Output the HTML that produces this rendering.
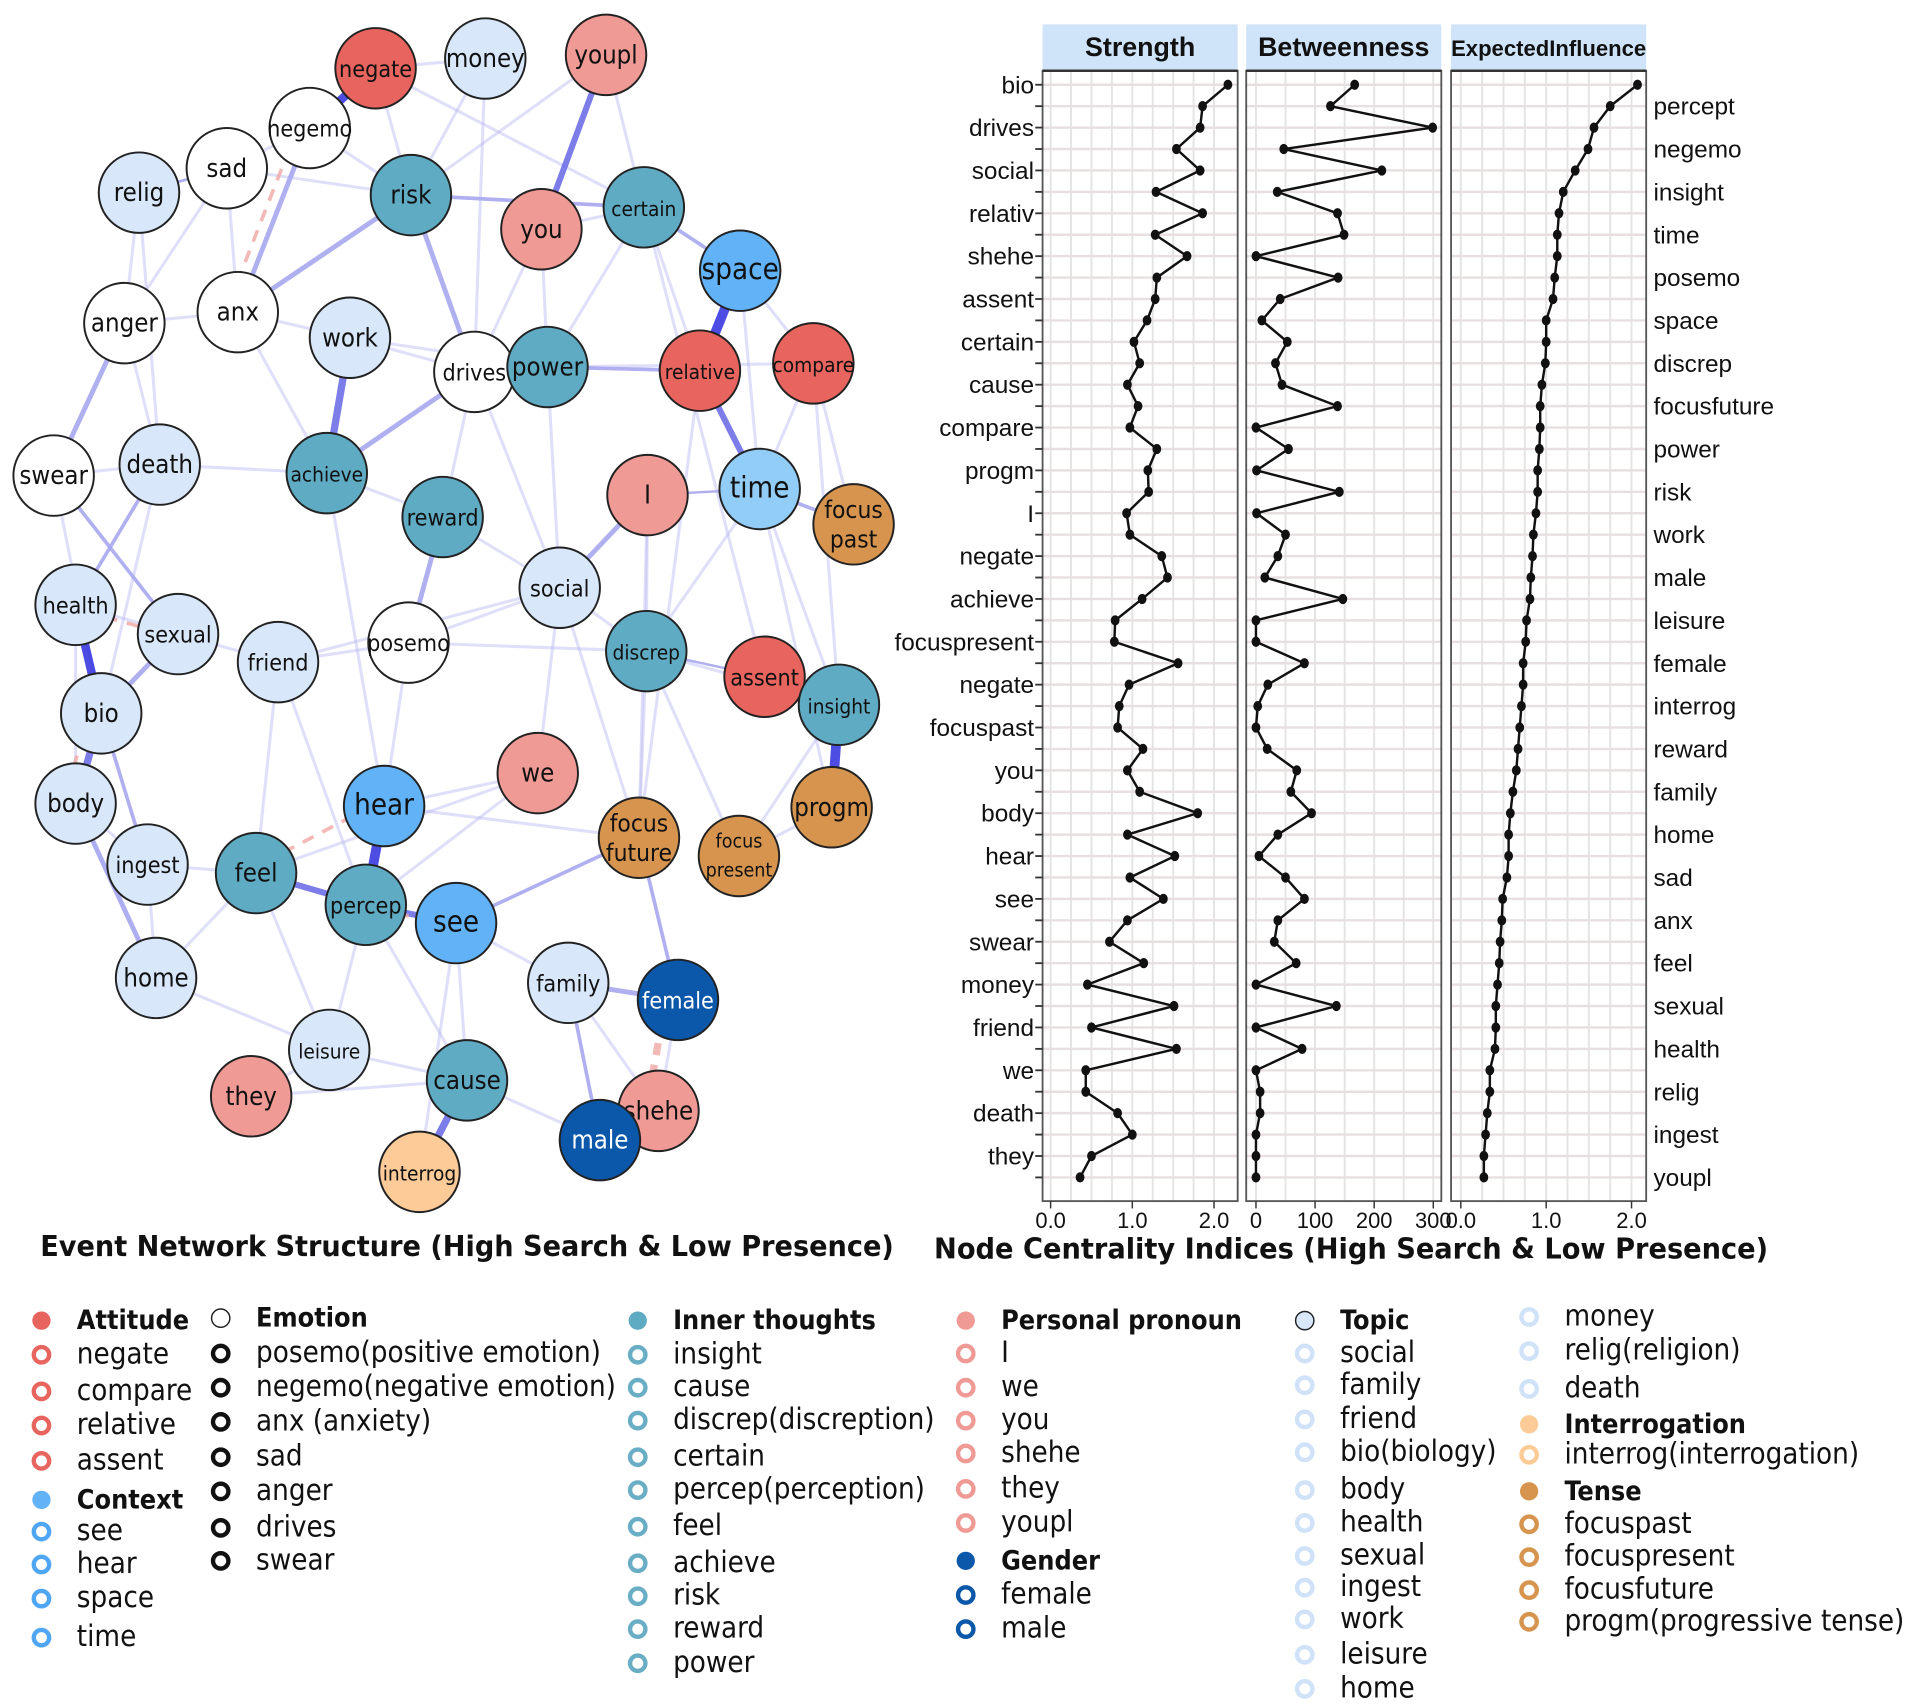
<!DOCTYPE html>
<html><head><meta charset="utf-8"><title>Network and centrality</title>
<style>
html,body{margin:0;padding:0;background:#fff;}
svg{display:block;}
.t{font-family:"DejaVu Sans Condensed","DejaVu Sans","Liberation Sans",sans-serif;}
.a{font-family:"Liberation Sans",sans-serif;}
</style></head>
<body>
<svg id="root" width="1912" height="1704" viewBox="0 0 1568 1397.4" preserveAspectRatio="none" xmlns="http://www.w3.org/2000/svg">
<rect width="1568" height="1398" fill="#fff"/>
<g id="edges"></g>
<g id="nodes"></g>
<text class="t" x="33" y="1030" font-size="23.5" font-weight="bold" fill="#111" textLength="700" lengthAdjust="spacingAndGlyphs">Event Network Structure (High Search &amp; Low Presence)</text>
<text class="t" x="766" y="1032" font-size="23.5" font-weight="bold" fill="#111" textLength="684" lengthAdjust="spacingAndGlyphs">Node Centrality Indices (High Search &amp; Low Presence)</text>
<g id="chart"></g>
<g id="legend"></g>
</svg>
<script>
const NS="http://www.w3.org/2000/svg";
function mk(tag,attrs,parent){const e=document.createElementNS(NS,tag);for(const k in attrs)e.setAttribute(k,attrs[k]);parent.appendChild(e);return e;}

// ---------- centrality chart data ----------
const leftLabels=["bio","drives","social","relativ","shehe","assent","certain","cause","compare","progm","I","negate","achieve","focuspresent","negate","focuspast","you","body","hear","see","swear","money","friend","we","death","they"];
const rightLabels=["percept","negemo","insight","time","posemo","space","discrep","focusfuture","power","risk","work","male","leisure","female","interrog","reward","family","home","sad","anx","feel","sexual","health","relig","ingest","youpl"];
const strengthValues=[2.17,1.86,1.83,1.54,1.83,1.29,1.86,1.28,1.67,1.30,1.28,1.18,1.02,1.09,0.94,1.07,0.97,1.30,
1.19,1.20,0.93,0.97,1.36,1.43,1.12,0.79,0.78,1.56,0.96,0.84,0.82,1.13,0.94,1.09,1.80,
0.94,1.52,0.97,1.38,0.94,0.72,1.14,0.45,1.51,0.50,1.54,0.43,0.43,0.82,1.00,0.50,0.36];
const betweennessValues=[167,126,299,47,213,36,138,149,0,139,41,10,53,33,44,138,0,55,
1,141,1,50,37,15,147,0,0,82,20,3,0,19,69,59,94,
37,5,50,82,37,31,68,0,136,0,78,0,7,7,0,0,0];
const influenceValues=[2.07,1.75,1.56,1.49,1.34,1.20,1.15,1.13,1.13,1.10,1.08,1.00,1.00,0.99,0.95,0.93,0.93,0.92,0.90,0.90,0.88,0.85,0.84,0.82,0.81,0.77,
0.76,0.73,0.73,0.71,0.69,0.67,0.65,0.61,0.58,0.56,0.56,0.54,0.49,0.48,0.46,0.45,0.43,0.41,0.41,0.40,0.34,0.34,0.31,0.29,0.27,0.27];
const strengthTicks=["0.0","1.0","2.0"];
const betweennessTicks=["0","100","200","300"];
const influenceTicks=["0.0","1.0","2.0"];

const chart=document.getElementById('chart');
const rowY=i=>69.5+i*17.57;
const panels=[
 {name:"Strength",key:"strength",x0:855,x1:1015,vals:strengthValues,sx:v=>861.6+v*67,ticks:strengthTicks,tv:[0,1,2],grid:[0,0.25,0.5,0.75,1,1.25,1.5,1.75,2],fs:22,tl:0},
 {name:"Betweenness",key:"betweenness",x0:1022,x1:1182,vals:betweennessValues,sx:v=>1030+v*0.4847,ticks:betweennessTicks,tv:[0,100,200,300],grid:[0,50,100,150,200,250,300],fs:22,tl:0},
 {name:"ExpectedInfluence",key:"expected-influence",x0:1190,x1:1350,vals:influenceValues,sx:v=>1198+v*70,ticks:influenceTicks,tv:[0,1,2],grid:[0,0.25,0.5,0.75,1,1.25,1.5,1.75,2],fs:18,tl:160}
];
panels.forEach(p=>{
  const g=mk('g',{},chart);
  
  
  const h=mk('rect',{x:p.x0,y:20,width:p.x1-p.x0,height:38,fill:'#cfe4f9'},g);
  
  
  const ta={x:(p.x0+p.x1)/2,y:46,'text-anchor':'middle','font-size':p.fs,'font-weight':'bold',fill:'#111',class:'a'};
  if(p.tl){ta.textLength=p.tl;ta.lengthAdjust='spacingAndGlyphs';}
  const ht=mk('text',ta,g);
  ht.textContent=p.name;
  
  
  mk('rect',{x:p.x0,y:58,width:p.x1-p.x0,height:927,fill:'#fff'},g);
  p.grid.forEach(v=>{mk('line',{x1:p.sx(v),x2:p.sx(v),y1:58,y2:985,stroke:'#e4e4e4','stroke-width':1.6},g);});
  for(let i=0;i<52;i++){mk('line',{x1:p.x0,x2:p.x1,y1:rowY(i),y2:rowY(i),stroke:'#e8e0e0','stroke-width':2},g);}
  mk('rect',{x:p.x0,y:58,width:p.x1-p.x0,height:927,fill:'none',stroke:'#555','stroke-width':1.5},g);
  mk('line',{x1:p.x0,x2:p.x1,y1:58,y2:58,stroke:'#333','stroke-width':2},g);
  p.tv.forEach((v,i)=>{
    mk('line',{x1:p.sx(v),x2:p.sx(v),y1:985,y2:991,stroke:'#333','stroke-width':1.2},g);
    const t=mk('text',{x:p.sx(v),y:998+9,'text-anchor':'middle','font-size':18,fill:'#111',class:'a'},g);
    t.textContent=p.ticks[i];
    
    
  });
  const pts=p.vals.map((v,i)=>p.sx(v)+','+rowY(i)).join(' ');
  const line=mk('polyline',{points:pts,fill:'none',stroke:'#111','stroke-width':2},g);
  
  
  p.vals.forEach((v,i)=>{
    const c=mk('ellipse',{cx:p.sx(v),cy:rowY(i),rx:3.6,ry:4.2,fill:'#111'},g);
    
    
  });
});
for(let i=0;i<52;i++){mk('line',{x1:849,x2:855,y1:rowY(i),y2:rowY(i),stroke:'#333','stroke-width':1.5},chart);}
leftLabels.forEach((s,i)=>{
  const t=mk('text',{x:848,y:rowY(2*i)+7,'text-anchor':'end','font-size':20,fill:'#111',class:'a'},chart);
  t.textContent=s;
  
  
});
rightLabels.forEach((s,i)=>{
  const t=mk('text',{x:1356,y:rowY(2*i+1)+7,'font-size':20,fill:'#111',class:'a'},chart);
  t.textContent=s;
  
  
});

// ---------- network ----------
const C={att:'#e8645e',pro:'#f09a96',inn:'#5fabc3',ctx:'#62b2f7',ctx2:'#92cdf8',top:'#d8e7f9',emo:'#ffffff',gen:'#0b57aa',ten:'#d6944f',itg:'#fdcb97'};
const nodeNames=["negate","money","youpl","negemo","sad","relig","risk","you","certain","space","anger","anx","work","drives","power","relative","compare","swear","death","achieve","reward","I","time","focus past","health","sexual","friend","posemo","social","discrep","assent","insight","bio","we","hear","progm","body","ingest","feel","focus future","focus present","percep","see","home","family","female","leisure","cause","they","shehe","male","interrog"];
const nodeX=[308,398,497,254,186,114,337,444,528,607,102,195,287,389,449,574,667,44,131,268,363,531,623,700,62,146,228,335,459,530,627,688,83,441,315,682,62,121,210,524,606,300,374,128,466,556,270,383,206,540,492,344];
const nodeY=[56,48,45,105,138,158,160,188,170,222,265,256,277,305,301,304,298,390,381,388,424,406,401,430,496,520,543,527,482,534,555,578,585,634,661,662,659,709,716,687,702,742,757,802,806,820,861,886,899,911,935,961];
const nodeGroup=["att","top","pro","emo","emo","top","inn","pro","inn","ctx","emo","emo","top","emo","inn","att","att","emo","top","inn","inn","pro","ctx2","ten","top","top","top","emo","top","inn","att","inn","top","pro","ctx","ten","top","top","inn","ten","ten","inn","ctx","top","top","gen","top","inn","pro","pro","gen","itg"];
const strongEdges=[["negate","negemo",7],["space","relative",8],["relative","time",5],["insight","progm",8],["assent","insight",3],["hear","percep",8],["percep","feel",5],["percep","see",5],["health","bio",7],["bio","body",6],["bio","sexual",4],["achieve","work",6],["reward","posemo",4],["cause","interrog",6],["family","female",4],["male","family",3],["body","home",4],["ingest","bio",3],["youpl","you",5],["risk","drives",4],["certain","space",3],["time","focus past",3],["social","I",4],["anger","swear",4],["risk","anx",4],["negemo","anx",4],["drives","achieve",4],["see","focus future",3],["focus future","female",3],["risk","certain",3],["sad","relig",2],["swear","sexual",3],["death","health",3],["relative","power",3],["I","time",2],["discrep","assent",2]];
const faintEdges=[["negate","risk"],["negate","certain"],["money","risk"],["money","drives"],["sad","risk"],["relig","anger"],["relig","death"],["sad","anger"],["sad","anx"],["anx","work"],["work","drives"],["drives","social"],["power","social"],["power","you"],["you","certain"],["certain","relative"],["compare","time"],["compare","focus past"],["compare","insight"],["space","time"],["space","compare"],["relative","focus future"],["time","progm"],["time","discrep"],["I","discrep"],["social","discrep"],["social","posemo"],["posemo","friend"],["posemo","discrep"],["friend","sexual"],["friend","feel"],["death","bio"],["swear","death"],["health","sexual"],["body","ingest"],["ingest","home"],["ingest","feel"],["feel","home"],["home","leisure"],["leisure","percep"],["leisure","they"],["they","cause"],["cause","see"],["cause","percep"],["see","family"],["hear","achieve"],["hear","we"],["we","social"],["we","percep"],["focus present","insight"],["focus present","discrep"],["focus future","discrep"],["focus future","social"],["family","shehe"],["shehe","female"],["shehe","male"],["male","cause"],["progm","focus present"],["assent","certain"],["insight","time"],["achieve","reward"],["reward","social"],["work","power"],["anger","anx"],["swear","bio"],["home","body"],["posemo","hear"],["percep","friend"],["we","feel"],["leisure","cause"],["interrog","see"],["youpl","risk"],["you","drives"],["negemo","sad"],["negemo","risk"],["certain","power"],["anger","death"],["relig","sad"],["drives","reward"],["I","focus future"],["discrep","insight"],["hear","focus future"],["body","health"],["money","negate"],["youpl","certain"],["power","compare"],["social","friend"],["anx","achieve"],["death","achieve"],["feel","leisure"]];
const dashedEdges=[["female","shehe"],["health","sexual"],["bio","body"],["hear","feel"],["percep","see"],["negemo","anx"]];
const idx=n=>nodeNames.indexOf(n);
const eg=document.getElementById('edges');
faintEdges.forEach(e=>{
  const a=idx(e[0]),b=idx(e[1]);
  const l=mk('line',{x1:nodeX[a],y1:nodeY[a],x2:nodeX[b],y2:nodeY[b],stroke:'#b9b9f2','stroke-width':2.5,'stroke-opacity':0.45},eg);
  
  
});
strongEdges.forEach(e=>{
  const a=idx(e[0]),b=idx(e[1]);
  const w=e[2];
  const col=w>=7?'#3a3ae0':(w>=5?'#6f6fe8':'#a7a7f0');
  const l=mk('line',{x1:nodeX[a],y1:nodeY[a],x2:nodeX[b],y2:nodeY[b],stroke:col,'stroke-width':w,'stroke-opacity':0.9},eg);
  
  
});
dashedEdges.forEach(e=>{
  const a=idx(e[0]),b=idx(e[1]);
  const l=mk('line',{x1:nodeX[a]-10,y1:nodeY[a],x2:nodeX[b]-10,y2:nodeY[b],stroke:'#f0a8a4','stroke-width':e[0]=="female"?6:3,'stroke-dasharray':'10,8','stroke-opacity':0.8},eg);
  
  
});
const ng=document.getElementById('nodes');
nodeNames.forEach((n,i)=>{
  const g=mk('g',{},ng);
  
  
  mk('circle',{cx:nodeX[i],cy:nodeY[i],r:33,fill:C[nodeGroup[i]],stroke:'#222','stroke-width':1.6},g);
  const dark=nodeGroup[i]=='gen';
  const parts=n.split(' ');
  let fs=n.length>=7?17:(n.length>=6?19:21);
  if(parts.length==2){
    parts.forEach((p,j)=>{
      const t=mk('text',{x:nodeX[i],y:nodeY[i]+(j==0?-5:19)+(n=="focus present"?-2:0),'text-anchor':'middle','font-size':n=="focus present"?16:20,fill:'#111',class:'t'},g);
      t.textContent=p;
    });
  } else {
    const t=mk('text',{x:nodeX[i],y:nodeY[i]+7,'text-anchor':'middle','font-size':(n=="space"||n=="time"||n=="hear"||n=="see")?24:fs,fill:dark?'#fff':'#111',class:'t'},g);
    t.textContent=n;
  }
});

// ---------- legend ----------
const lg=document.getElementById('legend');
function head(x,y,col,label,ring){
  const g=mk('g',{},lg);
  
  
  mk('circle',{cx:x,cy:y-7,r:7.5,fill:col,stroke:ring?'#222':'none','stroke-width':1.2},g);
  const t=mk('text',{x:x+29,y:y,'font-size':22,'font-weight':'bold',fill:'#111',class:'t'},g);
  t.textContent=label;
}
function item(x,y,col,label){
  const g=mk('g',{},lg);
  
  
  mk('circle',{cx:x,cy:y-7,r:6.3,fill:'#fff',stroke:col,'stroke-width':3.6},g);
  const t=mk('text',{x:x+29,y:y,'font-size':24,fill:'#111',class:'t'},g);
  t.textContent=label;
}
head(34,1090,'#e8645e','Attitude');
[["negate",1118],["compare",1148],["relative",1176],["assent",1205]].forEach(a=>item(34,a[1],'#e8645e',a[0]));
head(34,1237,'#62b2f7','Context');
[["see",1263],["hear",1290],["space",1318],["time",1350]].forEach(a=>item(34,a[1],'#4ea6f5',a[0]));
head(181,1088,'#fff','Emotion',true);
[["posemo(positive emotion)",1117],["negemo(negative emotion)",1145],["anx (anxiety)",1173],["sad",1202],["anger",1230],["drives",1260],["swear",1287]].forEach(a=>item(181,a[1],'#111',a[0]));
head(523,1090,'#5fabc3','Inner thoughts');
[["insight",1118],["cause",1145],["discrep(discreption)",1172],["certain",1202],["percep(perception)",1229],["feel",1259],["achieve",1289],["risk",1316],["reward",1343],["power",1371]].forEach(a=>item(523,a[1],'#6aaec6',a[0]));
head(792,1090,'#f09a96','Personal pronoun');
[["I",1117],["we",1145],["you",1172],["shehe",1199],["they",1228],["youpl",1256]].forEach(a=>item(792,a[1],'#f09a96',a[0]));
head(792,1287,'#0b57aa','Gender');
[["female",1315],["male",1343]].forEach(a=>item(792,a[1],'#0b57aa',a[0]));
head(1070,1090,'#d8e7f9','Topic',true);
[["social",1117],["family",1143],["friend",1171],["bio(biology)",1198],["body",1229],["health",1256],["sexual",1283],["ingest",1309],["work",1335],["leisure",1364],["home",1392]].forEach(a=>item(1070,a[1],'#cfe2f8',a[0]));
[["money",1087],["relig(religion)",1115],["death",1146]].forEach(a=>item(1254,a[1],'#cfe2f8',a[0]));
head(1254,1175,'#fdcb97','Interrogation');
item(1254,1200,'#fdcb97','interrog(interrogation)');
head(1254,1230,'#d6944f','Tense');
[["focuspast",1257],["focuspresent",1284],["focusfuture",1311],["progm(progressive tense)",1337]].forEach(a=>item(1254,a[1],'#d6944f',a[0]));
</script>
</body></html>
